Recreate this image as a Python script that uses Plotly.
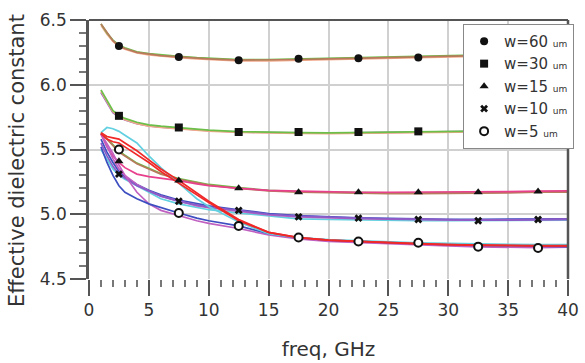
import plotly.graph_objects as go

# ---------------- data ----------------
freq = [1, 1.5, 2, 2.5, 3, 4, 5, 6, 7.5, 9, 10, 12.5, 15, 17.5, 20, 22.5, 25, 27.5, 30, 32.5, 35, 37.5, 40]
freq_markers = [2.5, 7.5, 12.5, 17.5, 22.5, 27.5, 32.5, 37.5]

# w = 60 um curves
w60_brown = [6.47, 6.40, 6.34, 6.30, 6.28, 6.25, 6.235, 6.225, 6.215, 6.205, 6.20, 6.19, 6.19, 6.195, 6.20, 6.205, 6.205, 6.21, 6.215, 6.22, 6.225, 6.235, 6.25]
w60_green = [6.47, 6.40, 6.345, 6.305, 6.285, 6.255, 6.24, 6.23, 6.22, 6.21, 6.205, 6.195, 6.195, 6.20, 6.205, 6.21, 6.21, 6.215, 6.22, 6.225, 6.235, 6.245, 6.27]
w60_salmon = [6.46, 6.39, 6.335, 6.295, 6.275, 6.245, 6.23, 6.22, 6.21, 6.20, 6.195, 6.185, 6.185, 6.19, 6.195, 6.20, 6.20, 6.205, 6.21, 6.215, 6.22, 6.23, 6.24]
w60_markers = [6.30, 6.215, 6.19, 6.20, 6.205, 6.21, 6.215, 6.22]

# w = 30 um curves
w30_green = [5.96, 5.88, 5.80, 5.765, 5.74, 5.71, 5.69, 5.68, 5.67, 5.655, 5.65, 5.638, 5.632, 5.63, 5.628, 5.63, 5.632, 5.636, 5.638, 5.642, 5.648, 5.652, 5.66]
w30_salmon = [5.95, 5.87, 5.79, 5.755, 5.73, 5.70, 5.68, 5.67, 5.66, 5.648, 5.642, 5.632, 5.626, 5.624, 5.622, 5.624, 5.626, 5.63, 5.632, 5.636, 5.64, 5.645, 5.655]
w30_purple = [5.94, 5.86, 5.785, 5.75, 5.728, 5.70, 5.682, 5.672, 5.662, 5.65, 5.645, 5.635, 5.63, 5.628, 5.626, 5.628, 5.63, 5.634, 5.636, 5.64, 5.645, 5.65, 5.66]
w30_markers = [5.76, 5.67, 5.635, 5.635, 5.635, 5.64, 5.64, 5.645]

# w = 15 um curves
w15_brown = [5.63, 5.58, 5.53, 5.48, 5.45, 5.39, 5.35, 5.31, 5.27, 5.24, 5.225, 5.20, 5.18, 5.17, 5.165, 5.16, 5.16, 5.16, 5.16, 5.165, 5.165, 5.17, 5.17]
w15_green = [5.63, 5.585, 5.535, 5.49, 5.455, 5.395, 5.355, 5.315, 5.275, 5.245, 5.23, 5.205, 5.185, 5.175, 5.17, 5.165, 5.165, 5.165, 5.165, 5.17, 5.17, 5.175, 5.175]
w15_pink = [5.62, 5.52, 5.45, 5.40, 5.36, 5.31, 5.29, 5.28, 5.26, 5.235, 5.22, 5.20, 5.185, 5.178, 5.172, 5.17, 5.17, 5.17, 5.17, 5.172, 5.175, 5.178, 5.18]
w15_markers = [5.41, 5.26, 5.20, 5.17, 5.17, 5.17, 5.17, 5.175]

# w = 10 um curves
w10_purple = [5.55, 5.45, 5.37, 5.31, 5.28, 5.22, 5.18, 5.14, 5.10, 5.07, 5.055, 5.03, 5.00, 4.985, 4.975, 4.97, 4.965, 4.96, 4.955, 4.955, 4.955, 4.96, 4.96]
w10_cyan = [5.50, 5.42, 5.35, 5.30, 5.27, 5.22, 5.17, 5.12, 5.08, 5.05, 5.035, 5.01, 4.985, 4.965, 4.96, 4.955, 4.952, 4.95, 4.95, 4.95, 4.952, 4.955, 4.955]
w10_blue = [5.58, 5.48, 5.40, 5.33, 5.29, 5.23, 5.185, 5.15, 5.11, 5.08, 5.065, 5.035, 5.005, 4.99, 4.98, 4.972, 4.968, 4.963, 4.96, 4.96, 4.96, 4.962, 4.965]
w10_violet = [5.62, 5.52, 5.43, 5.35, 5.30, 5.23, 5.18, 5.14, 5.10, 5.065, 5.05, 5.02, 4.995, 4.98, 4.972, 4.966, 4.962, 4.958, 4.955, 4.955, 4.956, 4.958, 4.96]
w10_markers = [5.31, 5.10, 5.03, 4.98, 4.97, 4.96, 4.95, 4.96]

# w = 5 um curves
w5_red1 = [5.63, 5.60, 5.59, 5.58, 5.55, 5.49, 5.42, 5.35, 5.26, 5.16, 5.10, 4.96, 4.86, 4.82, 4.80, 4.79, 4.78, 4.77, 4.765, 4.76, 4.755, 4.755, 4.755]
w5_red2 = [5.62, 5.58, 5.56, 5.55, 5.52, 5.46, 5.40, 5.33, 5.24, 5.15, 5.09, 4.95, 4.86, 4.82, 4.80, 4.79, 4.78, 4.772, 4.766, 4.762, 4.76, 4.758, 4.758]
w5_cyan = [5.63, 5.67, 5.66, 5.64, 5.61, 5.55, 5.45, 5.36, 5.24, 5.12, 5.06, 4.94, 4.85, 4.82, 4.805, 4.795, 4.785, 4.78, 4.775, 4.77, 4.77, 4.765, 4.765]
w5_blue = [5.52, 5.40, 5.30, 5.22, 5.17, 5.12, 5.08, 5.05, 5.01, 4.97, 4.95, 4.91, 4.85, 4.82, 4.80, 4.79, 4.78, 4.775, 4.765, 4.76, 4.755, 4.75, 4.75]
w5_violet = [5.62, 5.55, 5.47, 5.38, 5.30, 5.17, 5.08, 5.03, 4.99, 4.95, 4.93, 4.89, 4.84, 4.81, 4.79, 4.78, 4.772, 4.765, 4.755, 4.748, 4.744, 4.742, 4.745]
w5_markers = [5.50, 5.01, 4.91, 4.82, 4.79, 4.78, 4.75, 4.74]

legend_names = ["w=60", "w=30", "w=15", "w=10", "w=5"]
unit_label = "um"
x_title = "freq, GHz"
y_title = "Effective dielectric constant"

# ---------------- styles ----------------
C = dict(brown="#b77a5c", green="#6cc04a", salmon="#f2a88a", purple="#8a5cc8",
         pink="#e8408c", cyan="#62d0e0", blue="#3d4fc0", violet="#c060c0", red="#f02828")

curve_sets = [
    [(w60_salmon, "salmon"), (w60_green, "green"), (w60_brown, "brown")],
    [(w30_purple, "purple"), (w30_salmon, "salmon"), (w30_green, "green")],
    [(w15_green, "green"), (w15_brown, "brown"), (w15_pink, "pink")],
    [(w10_cyan, "cyan"), (w10_blue, "blue"), (w10_violet, "violet"), (w10_purple, "purple")],
    [(w5_violet, "violet"), (w5_blue, "blue"), (w5_cyan, "cyan"), (w5_red2, "red"), (w5_red1, "red")],
]
marker_sets = [w60_markers, w30_markers, w15_markers, w10_markers, w5_markers]
marker_styles = [
    dict(symbol="circle", size=8, color="#111", line=dict(width=0)),
    dict(symbol="square", size=8, color="#111", line=dict(width=0)),
    dict(symbol="triangle-up", size=8, color="#111", line=dict(width=0)),
    dict(symbol="x", size=7, color="#111", line=dict(width=0)),
    dict(symbol="circle", size=8, color="white", line=dict(width=2, color="#111")),
]

fig = go.Figure()
for curves in curve_sets:
    for vals, col in curves:
        fig.add_trace(go.Scatter(x=freq, y=vals, mode="lines", showlegend=False,
                                 line=dict(color=C[col], width=1.7), hoverinfo="skip"))

for name, vals, ms in zip(legend_names, marker_sets, marker_styles):
    fig.add_trace(go.Scatter(
        x=freq_markers, y=vals, mode="markers", marker=ms,
        name=f"{name} <span style='font-size:9px'>{unit_label}</span>"))

axis_color = "#555"
fig.update_layout(
    width=585, height=363,
    margin=dict(l=89, r=11, t=20, b=84),
    paper_bgcolor="white", plot_bgcolor="white",
    font=dict(family="DejaVu Sans", color="#333", size=16),
    xaxis=dict(
        range=[0, 40], tickvals=[0, 5, 10, 15, 20, 25, 30, 35, 40],
        showgrid=True, gridcolor="#d0d0d0", gridwidth=2,
        showline=False, zeroline=False, automargin=False,
        ticks="outside", ticklen=16, tickwidth=1.5, tickcolor=axis_color,
        minor=dict(dtick=1, ticks="outside", ticklen=7, tickwidth=1.5, tickcolor="#777", showgrid=False),
        tickfont=dict(size=17, color="#333"),
        title=dict(text=x_title, font=dict(size=20, color="#333"), standoff=22),
    ),
    yaxis=dict(
        range=[4.5, 6.5], tickvals=[4.5, 5.0, 5.5, 6.0, 6.5], ticktext=["4.5", "5.0", "5.5", "6.0", "6.5"],
        showgrid=True, gridcolor="#d0d0d0", gridwidth=2,
        showline=True, linecolor=axis_color, linewidth=2.5, zeroline=False, automargin=False,
        ticks="outside", ticklen=16, tickwidth=2, tickcolor=axis_color,
        minor=dict(dtick=0.1, ticks="outside", ticklen=7, tickwidth=1.5, tickcolor="#777", showgrid=False),
        tickfont=dict(size=17, color="#333"),
    ),
    legend=dict(
        x=0.781, y=0.985, xanchor="left", yanchor="top",
        bgcolor="white", bordercolor="#888", borderwidth=1,
        font=dict(size=15, color="#333"), itemwidth=30, tracegroupgap=0,
    ),
    annotations=[
        dict(text=y_title, textangle=-90, showarrow=False,
             xref="paper", yref="paper", x=0, y=(279 - 161) / 259,
             xanchor="center", yanchor="middle", xshift=-72,
             font=dict(size=21, color="#333")),
    ],
    shapes=[
        dict(type="line", xref="paper", yref="paper", x0=0, x1=1, y0=1, y1=1,
             line=dict(color=axis_color, width=2)),
        dict(type="line", xref="paper", yref="paper", x0=1, x1=1, y0=0, y1=1,
             line=dict(color=axis_color, width=2.5)),
    ],
)

fig.write_html("out.html")
